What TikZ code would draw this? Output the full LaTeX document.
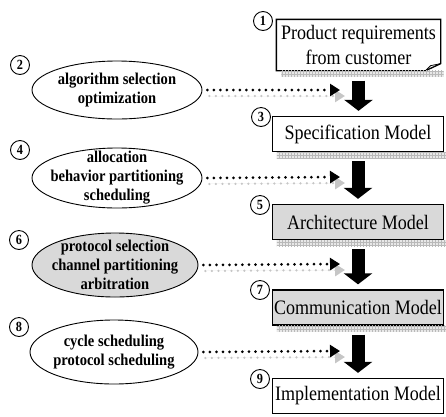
\documentclass[tikz,border=0pt]{standalone}
\usepackage{fontspec}
\setmainfont{Liberation Serif}
\newfontfamily\condserif[FakeStretch=0.88]{Liberation Serif}
\usetikzlibrary{shapes.geometric,arrows.meta,calc,patterns}
\newcommand\bandbelow[1]{\path[shadowband] ($(#1.south west)+(5pt,0)$) rectangle ($(#1.south east)+(3pt,-6pt)$);}
\begin{document}
\begin{tikzpicture}[x=1pt,y=-1pt,
 boxn/.style={draw, line width=1.3pt, rectangle, minimum width=171pt, minimum height=35pt, inner sep=0pt, font=\condserif\fontsize{20.5}{25}\selectfont, align=center},
 grey/.style={fill=black!15},
 ell/.style={draw, ellipse, line width=0.9pt, inner sep=0pt},
 etext/.style={font=\condserif\bfseries\fontsize{16.5}{19}\selectfont, align=center, inner sep=0pt},
 num/.style={draw, circle, line width=0.9pt, minimum size=19pt, inner sep=0pt, font=\condserif\bfseries\fontsize{14}{14}\selectfont},
 dots/.style={line width=3pt, dash pattern=on 0pt off 6.5pt, line cap=round, -{Triangle[width=12pt,length=10pt]}},
 sdots/.style={dots, draw=gray!45, fill=gray!45, line width=2.5pt},
 bigarrow/.style={line width=13pt, -{Triangle[width=28pt,length=11pt]}},
 shadowband/.style={fill=gray!18, postaction={pattern=grid, pattern color=gray!55}}
]
\useasboundingbox (0,0) rectangle (446,416);

% right column boxes
\node[boxn, minimum width=163pt, minimum height=50pt, draw=none] (b1) at (358.5,45) {Product requirements\\from customer};
\node[boxn] (b3) at (358,134) {Specification Model};
\node[boxn, grey] (b5) at (358,222) {Architecture Model};
\node[boxn, grey] (b7) at (358,307.5) {Communication Model};
\node[boxn] (b9) at (358,396) {Implementation Model};

% folded-corner outline of box 1
\draw[line width=1.3pt] (b1.north west) -- (b1.north east) -- ([yshift=7pt]b1.south east)
  -- ([xshift=-15pt]b1.south east) -- (b1.south west) -- cycle;
\draw[line width=0.8pt] ([xshift=-15pt]b1.south east) -- ([xshift=-10pt,yshift=5pt]b1.south east) -- ([yshift=7pt]b1.south east);

% hatched shadows
\bandbelow{b1}
\bandbelow{b3}
\bandbelow{b5}
\bandbelow{b7}

% number circles
\node[num] (c1) at (263,21) {1};
\node[num] (c3) at (261,117) {3};
\node[num] (c5) at (260,205) {5};
\node[num] (c7) at (260,290) {7};
\node[num] (c9) at (260,379) {9};
\node[num] (c2) at (20,65) {2};
\node[num] (c4) at (20,150) {4};
\node[num] (c6) at (19,240) {6};
\node[num] (c8) at (19,327) {8};

% ellipses
\node[ell, minimum width=170pt, minimum height=58pt] (e2) at (117,90) {};
\node[etext] (e2t) at (e2) {algorithm selection\\optimization};
\node[ell, minimum width=170pt, minimum height=60pt] (e4) at (117,178) {};
\node[etext] (e4t) at (e4) {allocation\\behavior partitioning\\scheduling};
\node[ell, grey, minimum width=166pt, minimum height=64pt] (e6) at (115,265) {};
\node[etext] (e6t) at (e6) {protocol selection\\channel partitioning\\arbitration};
\node[ell, minimum width=168pt, minimum height=64pt] (e8) at (114,352) {};
\node[etext] (e8t) at (e8) {cycle scheduling\\protocol scheduling};

% dotted arrow targets
\coordinate (t2) at (340,90);
\coordinate (t4) at (340,177);
\coordinate (t6) at (340,264);
\coordinate (t8) at (340,351);

% dotted arrows with grey shadows
\foreach \e/\t in {e2/t2,e4/t4,e6/t6,e8/t8}{
  \draw[sdots] ([shift={(7pt,-6pt)}]\e.east) -- ([shift={(5pt,-6pt)}]\t);
  \draw[dots] ([xshift=5pt]\e.east) -- (\t);
}

% big black arrows
\draw[bigarrow] ([yshift=-10pt]b1.south) -- ([yshift=5pt]b1.south |- b3.north);
\draw[bigarrow] ([yshift=-9pt]b3.south) -- ([yshift=5pt]b5.north);
\draw[bigarrow] ([yshift=-9pt]b5.south) -- ([yshift=5pt]b7.north);
\draw[bigarrow] ([yshift=-9pt]b7.south) -- ([yshift=5pt]b9.north);
\end{tikzpicture}
\end{document}
